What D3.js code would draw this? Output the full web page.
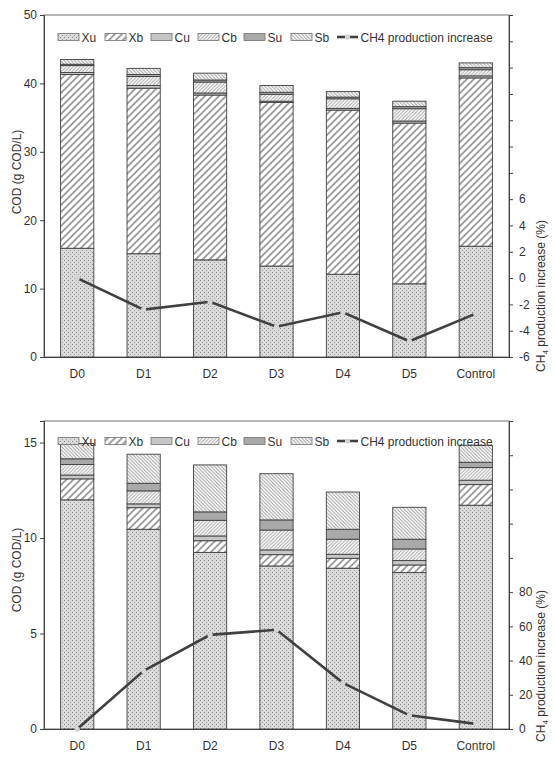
<!DOCTYPE html>
<html>
<head>
<meta charset="utf-8">
<script src="https://cdn.jsdelivr.net/npm/d3@7"></script>
<style>
  body { margin: 0; background: #fff; }
  text { font-family: "Liberation Sans", Arial, sans-serif; fill: #333; }
</style>
</head>
<body>
<div id="chart"></div>
<script>
const groups = ["D0", "D1", "D2", "D3", "D4", "D5", "Control"];
const series = ["Xu", "Xb", "Cu", "Cb", "Su", "Sb"];

// upper panel, g COD/L
const topXu = [15.9, 15.1, 14.2, 13.3, 12.1, 10.7, 16.2];
const topXb = [25.4, 24.2, 24.1, 23.9, 24.0, 23.5, 24.6];
const topCu = [0.3, 0.4, 0.3, 0.2, 0.25, 0.3, 0.3];
const topCb = [1.0, 1.3, 1.6, 1.0, 1.4, 1.8, 0.9];
const topSu = [0.2, 0.3, 0.3, 0.3, 0.25, 0.3, 0.3];
const topSb = [0.7, 0.9, 1.0, 1.0, 0.8, 0.8, 0.7];
const topCH4 = [0, -2.4, -1.8, -3.7, -2.6, -4.8, -2.7];   // %

// lower panel, g COD/L
const botXu = [12.0, 10.46, 9.25, 8.54, 8.42, 8.19, 11.72];
const botXb = [1.1, 1.13, 0.61, 0.59, 0.52, 0.4, 1.08];
const botCu = [0.2, 0.2, 0.25, 0.25, 0.21, 0.23, 0.23];
const botCb = [0.55, 0.68, 0.82, 1.04, 0.79, 0.61, 0.66];
const botSu = [0.3, 0.4, 0.44, 0.53, 0.52, 0.51, 0.28];
const botSb = [0.8, 1.52, 2.46, 2.42, 1.95, 1.67, 0.89];
const botCH4 = [0, 34, 55, 58, 27, 8, 3];   // %

const topLeftTicks = [0, 10, 20, 30, 40, 50];
const topRightTicks = [-6, -4, -2, 0, 2, 4, 6, 8, 10, 12, 14, 16, 18, 20];
const botLeftTicks = [0, 5, 10, 15];
const botRightTicks = [0, 20, 40, 60, 80, 100, 120, 140, 160, 180];

const W = 554, H = 758;
const dark = "#404040";

const svg = d3.select("#chart").append("svg")
  .attr("width", W).attr("height", H);
svg.append("rect").attr("width", W).attr("height", H).attr("fill", "#fff");

// fill patterns
const defs = svg.append("defs");

function hatch(id, size, d, color, sw) {
  const p = defs.append("pattern").attr("id", id)
    .attr("patternUnits", "userSpaceOnUse")
    .attr("width", size).attr("height", size);
  p.append("rect").attr("width", size).attr("height", size).attr("fill", "#fff");
  p.append("path").attr("d", d).attr("stroke", color).attr("stroke-width", sw);
}

// Xu: light gray with dots
const pXu = defs.append("pattern").attr("id", "pXu")
  .attr("patternUnits", "userSpaceOnUse").attr("width", 4).attr("height", 4);
pXu.append("rect").attr("width", 4).attr("height", 4).attr("fill", "#dadada");
pXu.append("rect").attr("x", 0).attr("y", 0).attr("width", 1).attr("height", 1).attr("fill", "#8a8a8a");
pXu.append("rect").attr("x", 2).attr("y", 2).attr("width", 1).attr("height", 1).attr("fill", "#a0a0a0");

// Xb: wide forward hatch
hatch("pXb", 7, "M-1,1 l2,-2 M0,7 l7,-7 M6,8 l2,-2", "#9a9a9a", 1.8);
// Cb: dense forward hatch
hatch("pCb", 3.5, "M-1,1 l2,-2 M0,3.5 l3.5,-3.5 M2.5,4.5 l2,-2", "#a0a0a0", 0.9);
// Sb: dense backward hatch
hatch("pSb", 3.5, "M-1,2.5 l2,2 M0,0 l3.5,3.5 M2.5,-1 l2,2", "#9a9a9a", 0.9);

const fills = {
  Xu: "url(#pXu)",
  Xb: "url(#pXb)",
  Cu: "#c6c6c6",
  Cb: "url(#pCb)",
  Su: "#a9a9a9",
  Sb: "url(#pSb)"
};

const plotLeft = 44, plotRight = 509;

function drawPanel(cfg) {
  const g = svg.append("g");

  const table = groups.map((grp, i) => {
    const row = { group: grp };
    series.forEach(s => { row[s] = cfg.values[s][i]; });
    return row;
  });
  const stacked = d3.stack().keys(series)(table);

  const x = d3.scaleBand().domain(groups)
    .range([plotLeft, plotRight]).paddingInner(0.5).paddingOuter(0.25);
  const y = d3.scaleLinear().domain(cfg.yDomain).range([cfg.bottom, cfg.top]);
  const y2 = d3.scaleLinear().domain(cfg.y2Domain).range([cfg.bottom, cfg.top]);

  // plot frame
  g.append("rect")
    .attr("x", plotLeft).attr("y", cfg.top)
    .attr("width", plotRight - plotLeft).attr("height", cfg.bottom - cfg.top)
    .attr("fill", "none").attr("stroke", "#707070").attr("stroke-width", 1);

  // stacked bars
  g.selectAll("g.layer").data(stacked).join("g")
    .attr("class", "layer")
    .attr("fill", d => fills[d.key])
    .selectAll("rect").data(d => d).join("rect")
      .attr("x", d => x(d.data.group))
      .attr("width", x.bandwidth())
      .attr("y", d => y(d[1]))
      .attr("height", d => y(d[0]) - y(d[1]))
      .attr("stroke", dark).attr("stroke-width", 0.9);

  // left axis
  const axL = g.append("g")
    .attr("transform", `translate(${plotLeft},0)`)
    .call(d3.axisLeft(y).tickValues(cfg.leftTicks).tickSize(4).tickPadding(3));
  // right axis
  const axR = g.append("g")
    .attr("transform", `translate(${plotRight},0)`)
    .call(d3.axisRight(y2).tickValues(cfg.rightTicks).tickSize(4).tickPadding(6)
      .tickFormat(d => d <= cfg.rightLabelMax ? d : ""));
  // bottom axis
  const axB = g.append("g")
    .attr("transform", `translate(0,${cfg.bottom})`)
    .call(d3.axisBottom(x).tickSize(0).tickPadding(12));

  [axL, axR, axB].forEach(a => {
    a.select(".domain").attr("stroke", dark);
    a.selectAll(".tick line").attr("stroke", dark);
    a.selectAll(".tick text").attr("font-size", 12)
      .attr("font-family", "Liberation Sans, Arial, sans-serif").attr("fill", "#333");
  });

  // CH4 line
  const pts = groups.map((grp, i) => ({ group: grp, v: cfg.ch4[i] }));
  const line = d3.line()
    .x(d => x(d.group) + x.bandwidth() / 2)
    .y(d => y2(d.v));
  g.append("path").datum(pts)
    .attr("fill", "none").attr("stroke", dark).attr("stroke-width", 2.6)
    .attr("d", line);
  g.selectAll("circle.mk").data(pts).join("circle")
    .attr("class", "mk")
    .attr("cx", d => x(d.group) + x.bandwidth() / 2)
    .attr("cy", d => y2(d.v))
    .attr("r", 2.6).attr("fill", "#d4d4d4");

  // axis titles
  g.append("text")
    .attr("transform", `translate(21,${cfg.leftTitleY}) rotate(-90)`)
    .attr("text-anchor", "middle").attr("font-size", 12)
    .text("COD (g COD/L)");
  const rt = g.append("text")
    .attr("transform", `translate(545,${cfg.rightTitleY}) rotate(-90)`)
    .attr("text-anchor", "middle").attr("font-size", 12);
  rt.append("tspan").text("CH");
  rt.append("tspan").attr("font-size", 8).attr("dy", 3).text("4");
  rt.append("tspan").attr("dy", -3).text(" production increase (%)");

  // legend
  const lg = g.append("g").attr("transform", `translate(0,${cfg.legendY})`);
  const legX = [58, 105, 151, 198, 244, 291];
  series.forEach((s, i) => {
    lg.append("rect")
      .attr("x", legX[i]).attr("y", -3.5).attr("width", 21).attr("height", 7)
      .attr("fill", fills[s]).attr("stroke", "#707070").attr("stroke-width", 0.8);
    lg.append("text").attr("x", legX[i] + 23.5).attr("y", 4.5)
      .attr("font-size", 12).text(s);
  });
  lg.append("line").attr("x1", 337).attr("x2", 358).attr("y1", 0).attr("y2", 0)
    .attr("stroke", dark).attr("stroke-width", 2.6);
  lg.append("circle").attr("cx", 347.5).attr("cy", 0).attr("r", 2.6).attr("fill", "#d4d4d4");
  lg.append("text").attr("x", 360.5).attr("y", 4.5).attr("font-size", 12)
    .text("CH4 production increase");
}

drawPanel({
  top: 15, bottom: 357,
  yDomain: [0, 50], y2Domain: [-6, 20],
  leftTicks: topLeftTicks, rightTicks: topRightTicks, rightLabelMax: 6,
  values: { Xu: topXu, Xb: topXb, Cu: topCu, Cb: topCb, Su: topSu, Sb: topSb },
  ch4: topCH4,
  legendY: 37, leftTitleY: 172, rightTitleY: 296
});

drawPanel({
  top: 421, bottom: 729,
  yDomain: [0, 16.13], y2Domain: [0, 180],
  leftTicks: botLeftTicks, rightTicks: botRightTicks, rightLabelMax: 80,
  values: { Xu: botXu, Xb: botXb, Cu: botCu, Cb: botCb, Su: botSu, Sb: botSb },
  ch4: botCH4,
  legendY: 441, leftTitleY: 570, rightTitleY: 666
});
</script>
</body>
</html>
